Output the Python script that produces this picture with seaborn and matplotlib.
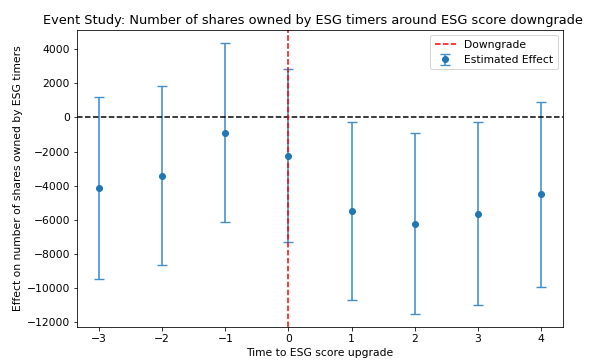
import numpy as np
import pandas as pd
import seaborn as sns
import matplotlib.pyplot as plt

# event-study estimates
periods = [-3, -2, -1, 0, 1, 2, 3, 4]
effect = [-4140, -3410, -920, -2280, -5470, -6240, -5650, -4490]
ci_lower = [-9450, -8670, -6120, -7310, -10710, -11490, -10980, -9960]
ci_upper = [1190, 1840, 4330, 2860, -255, -900, -255, 880]

df = pd.DataFrame({'period': periods, 'effect': effect,
                   'lower': ci_lower, 'upper': ci_upper})
yerr = np.array([df['effect'] - df['lower'], df['upper'] - df['effect']])

blue = sns.color_palette()[0]
plt.rcParams['font.size'] = 10.7

fig, ax = plt.subplots(figsize=(596 / 72, 361 / 72), dpi=72)
fig.subplots_adjust(left=0.129, right=0.945, top=0.917, bottom=0.094)

ax.errorbar(df['period'], df['effect'], yerr=yerr, fmt='o', color=blue,
            ecolor=(0.25, 0.56, 0.80), elinewidth=1.6, capthick=1.4,
            capsize=5, label='Estimated Effect')
ax.axhline(0, color='black', linestyle='--')
ax.axvline(0, color='red', linestyle='--', label='Downgrade')

ax.set_xlabel('Time to ESG score upgrade')
ax.set_ylabel('Effect on number of shares owned by ESG timers')
ax.set_title('Event Study: Number of shares owned by ESG timers around ESG score downgrade',
             fontsize=12.9, x=0.485)
ax.legend(loc='upper right')

plt.savefig('out.png', dpi=72)
